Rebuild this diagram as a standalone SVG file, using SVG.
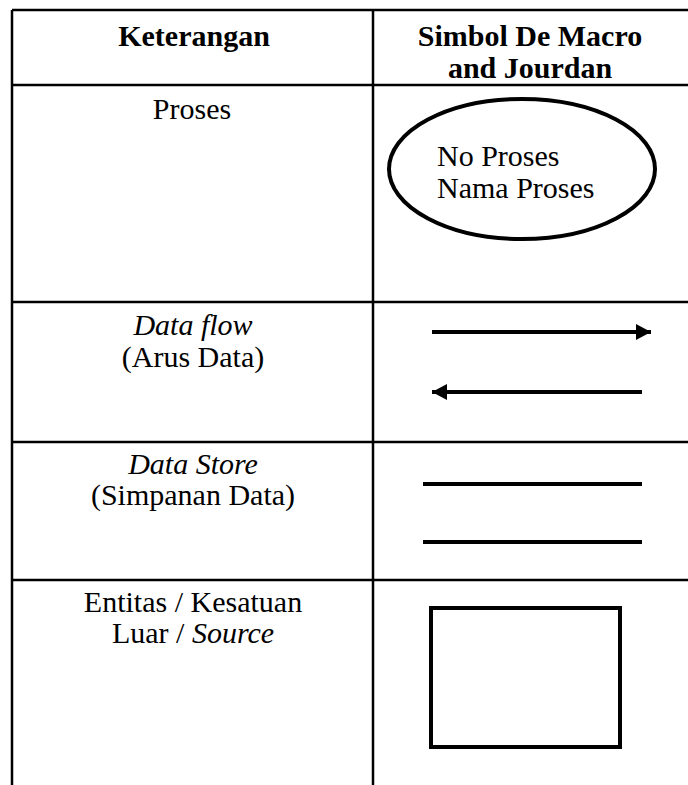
<svg xmlns="http://www.w3.org/2000/svg" width="688" height="785" viewBox="0 0 688 785">
<style>
.grid{stroke:#000;stroke-width:2.5;fill:none}
.t{font-family:"Liberation Serif","Times New Roman",serif;font-size:30px;fill:#000;text-anchor:middle}
.h{font-weight:bold}
.i{font-style:italic}
.sym{stroke:#000;stroke-width:4;fill:none}
</style>
<defs>
<marker id="ah" viewBox="0 0 15 16" refX="15" refY="8" markerWidth="3.75" markerHeight="4" orient="auto-start-reverse" markerUnits="strokeWidth">
<path d="M0,0 L15,8 L0,16 z" fill="#000"/>
</marker>
</defs>
<rect width="688" height="785" fill="#fff"/>
<g id="table">
<path class="grid" d="M12,10 H688 M12,10 V785 M373,10 V785 M12,85 H688 M12,302 H688 M12,442 H688 M12,580 H688"/>
</g>
<g id="header">
<text class="t h" x="194" y="46">Keterangan</text>
<text class="t h" x="530" y="46">Simbol De Macro</text>
<text class="t h" x="530" y="78">and Jourdan</text>
</g>
<g id="proses">
<text class="t" x="192" y="119">Proses</text>
<ellipse class="sym" cx="522" cy="169" rx="133" ry="70"/>
<text class="t" x="437" y="166" style="text-anchor:start">No Proses</text>
<text class="t" x="437" y="198" style="text-anchor:start">Nama Proses</text>
</g>
<g id="dataflow">
<text class="t i" x="193" y="335">Data flow</text>
<text class="t" x="193" y="367">(Arus Data)</text>
</g>
<g id="connectors">
<line class="sym" x1="432" y1="332" x2="651" y2="332" marker-end="url(#ah)"/>
<line class="sym" x1="432" y1="392" x2="642" y2="392" marker-start="url(#ah)"/>
</g>
<g id="datastore">
<text class="t i" x="193" y="474">Data Store</text>
<text class="t" x="193" y="505">(Simpanan Data)</text>
<line class="sym" x1="423" y1="484" x2="642" y2="484"/>
<line class="sym" x1="423" y1="542" x2="642" y2="542"/>
</g>
<g id="entitas">
<text class="t" x="193" y="612">Entitas / Kesatuan</text>
<text class="t" x="193" y="643">Luar / <tspan class="i">Source</tspan></text>
<rect class="sym" x="431" y="608" width="189" height="139"/>
</g>
</svg>
